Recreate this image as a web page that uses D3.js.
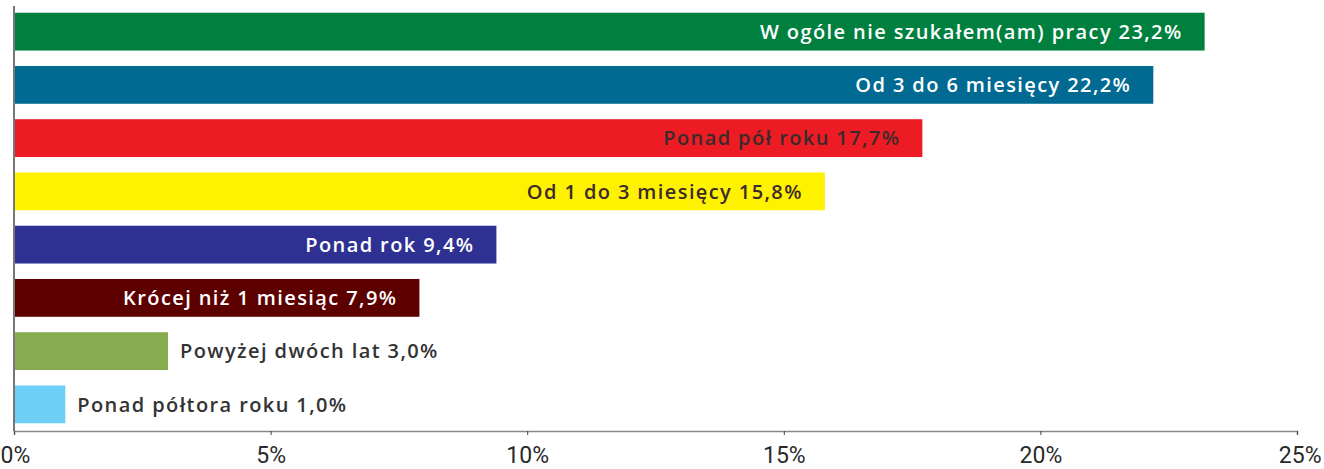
<!DOCTYPE html>
<html>
<head>
<meta charset="utf-8">
<script src="https://cdn.jsdelivr.net/npm/d3@7"></script>
<style>
  body { margin: 0; background: #fff; }
  svg text { font-family: "Open Sans", "Noto Sans", sans-serif; }
</style>
</head>
<body>
<svg id="chart" width="1324" height="469"></svg>
<script>
// categories top to bottom
var categories = [
  "W ogóle nie szukałem(am) pracy",
  "Od 3 do 6 miesięcy",
  "Ponad pół roku",
  "Od 1 do 3 miesięcy",
  "Ponad rok",
  "Krócej niż 1 miesiąc",
  "Powyżej dwóch lat",
  "Ponad półtora roku"
];
var values = [23.2, 22.2, 17.7, 15.8, 9.4, 7.9, 3.0, 1.0];
var colors = ["#00803f", "#006a93", "#ed1c24", "#fff200", "#2e3192", "#5c0000", "#86ac4f", "#6dcff6"];
var textColors = ["#fff", "#fff", "#3a2a2a", "#3a2a2a", "#fff", "#fff", "#333", "#333"];
var ticks = [0, 5, 10, 15, 20, 25];

var svg = d3.select("#chart");

var x = d3.scaleLinear().domain([0, 25]).range([14, 1297]);
var y = d3.scaleBand().domain(categories).range([5, 431])
  .paddingInner(0.29).paddingOuter(0.145);

function fmt(v) { return d3.format(".1f")(v).replace(".", ",") + "%"; }

var data = categories.map(function(c, i) {
  return {cat: c, val: values[i], color: colors[i], tc: textColors[i]};
});

svg.selectAll("rect.bar")
  .data(data)
  .enter()
  .append("rect")
  .attr("class", "bar")
  .attr("x", x(0))
  .attr("y", function(d) { return y(d.cat); })
  .attr("width", function(d) { return x(d.val) - x(0); })
  .attr("height", y.bandwidth())
  .attr("fill", function(d) { return d.color; });

// labels: inside end for long bars, outside for short ones
svg.selectAll("text.lbl")
  .data(data)
  .enter()
  .append("text")
  .attr("class", "lbl")
  .attr("x", function(d) { return d.val > 5 ? x(d.val) - 22 : x(d.val) + 12; })
  .attr("y", function(d) { return y(d.cat) + y.bandwidth() / 2; })
  .attr("dy", "0.36em")
  .attr("text-anchor", function(d) { return d.val > 5 ? "end" : "start"; })
  .attr("font-size", 20)
  .attr("font-weight", 600)
  .attr("letter-spacing", 1.4)
  .attr("fill", function(d) { return d.tc; })
  .text(function(d) { return d.cat + " " + fmt(d.val); });

// x axis
var xAxis = d3.axisBottom(x)
  .tickValues(ticks)
  .tickSize(4)
  .tickFormat(function(d) { return d + "%"; });

var gx = svg.append("g")
  .attr("transform", "translate(0,431)")
  .call(xAxis);
gx.select(".domain").attr("stroke", "#888").attr("stroke-width", 1.5);
gx.selectAll(".tick line").attr("stroke", "#444");
gx.selectAll(".tick text")
  .attr("y", 32)
  .attr("dy", 0)
  .attr("font-size", 23)
  .attr("fill", "#2a2a2a")
  .style("font-family", "Roboto, sans-serif");
// keep the end labels inside the picture
gx.selectAll(".tick text").filter(function(d) { return d === 0; }).attr("text-anchor", "start").attr("x", -14);
gx.selectAll(".tick text").filter(function(d) { return d === 25; }).attr("text-anchor", "end").attr("x", 24);

// vertical axis line
svg.append("line")
  .attr("x1", x(0)).attr("x2", x(0))
  .attr("y1", 6).attr("y2", 431)
  .attr("stroke", "#777")
  .attr("stroke-width", 2);
</script>
</body>
</html>
